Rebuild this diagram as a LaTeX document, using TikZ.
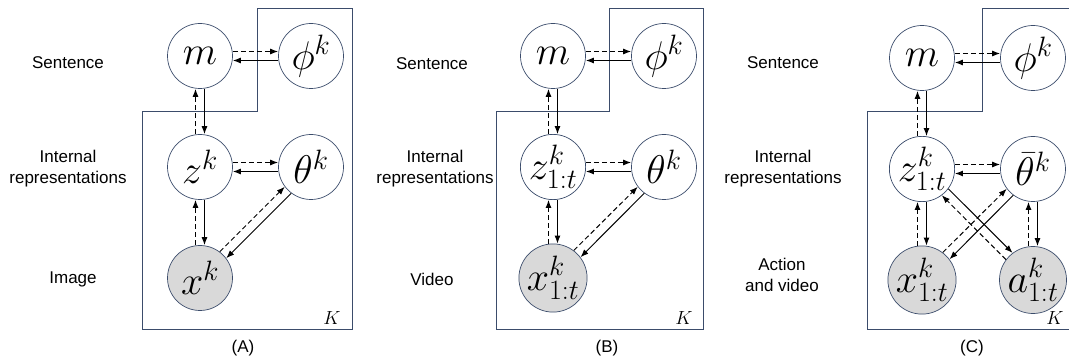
\RequirePackage{fix-cm}
\documentclass[tikz,border=0pt]{standalone}
\usepackage{fontspec}
\setsansfont{Liberation Sans}
\usetikzlibrary{arrows.meta,positioning}
\definecolor{platecol}{HTML}{3B4C6B}
\definecolor{obsgray}{HTML}{D9D9D9}
\newcommand{\bigmath}{\fontsize{40}{44}\selectfont}
\newcommand{\labfont}{\sffamily\fontsize{17}{21}\selectfont}
\newcommand{\platefont}{\fontsize{19}{21}\selectfont}

\begin{document}
\begin{tikzpicture}[x=1pt, y=-1pt, node distance={111pt},
  main/.style = {draw=platecol, line width=0.7pt, circle, minimum size=65pt, inner sep=0pt, font=\bigmath},
  obs/.style = {main, fill=obsgray},
  lab/.style = {align=center, font=\labfont},
  plate/.style = {draw=platecol, line width=0.9pt},
  fwd/.style = {-{Latex[length=8pt,width=6pt]}, line width=1pt},
  bwd/.style = {fwd, dash pattern=on 5pt off 3pt}]
\useasboundingbox (0,0) rectangle (1069,358);

% (A) image
\draw[plate] (142,111) -- (257,111) -- (257,8) -- (352,8) -- (352,329) -- (142,329) -- cycle;
\node[main] (m1) at (200,56) {$m$};
\node[main] (phi1) [right of=m1] {$\phi^k$};
\node[main] (z1) [below of=m1] {$z^k$};
\node[main] (th1) [right of=z1] {$\theta^k$};
\node[obs] (x1) [below of=z1] {$x^k$};
\node[lab] (sen1) at (68,63) {Sentence};
\node[lab] (int1) at (68,169) {Internal\\representations};
\node[lab] (obs1) at (73,279) {Image};
\node[lab] (cap1) at (243,348) {(A)};
\node (K1) at (332,318) {\platefont$K$};

\draw[bwd] ([yshift=4.5pt]m1.east) -- ([yshift=4.5pt]phi1.west);
\draw[fwd] ([yshift=-4.5pt]phi1.west) -- ([yshift=-4.5pt]m1.east);
\draw[bwd] ([xshift=-4.5pt]z1.north) -- ([xshift=-4.5pt]m1.south);
\draw[fwd] ([xshift=4.5pt]m1.south) -- ([xshift=4.5pt]z1.north);
\draw[bwd] ([yshift=4.5pt]z1.east) -- ([yshift=4.5pt]th1.west);
\draw[fwd] ([yshift=-4.5pt]th1.west) -- ([yshift=-4.5pt]z1.east);
\draw[bwd] ([xshift=-4.5pt]x1.north) -- ([xshift=-4.5pt]z1.south);
\draw[fwd] ([xshift=4.5pt]z1.south) -- ([xshift=4.5pt]x1.north);
\draw[bwd] (x1.53) -- (th1.217);
\draw[fwd] (th1.233) -- (x1.37);

% (B) video
\draw[plate] (496,111) -- (609,111) -- (609,8) -- (703,8) -- (703,329) -- (496,329) -- cycle;
\node[main] (m2) at (553,56) {$m$};
\node[main] (phi2) [right of=m2] {$\phi^k$};
\node[main] (z2) [below of=m2] {$z^k_{1:t}$};
\node[main] (th2) [right of=z2] {$\theta^k$};
\node[obs] (x2) [below of=z2] {$x^k_{1:t}$};
\node[lab] (sen2) at (432,64) {Sentence};
\node[lab] (int2) at (435,169) {Internal\\representations};
\node[lab] (obs2) at (432,279) {Video};
\node[lab] (cap2) at (607,348) {(B)};
\node (K2) at (684,318) {\platefont$K$};

\draw[bwd] ([yshift=4.5pt]m2.east) -- ([yshift=4.5pt]phi2.west);
\draw[fwd] ([yshift=-4.5pt]phi2.west) -- ([yshift=-4.5pt]m2.east);
\draw[bwd] ([xshift=-4.5pt]z2.north) -- ([xshift=-4.5pt]m2.south);
\draw[fwd] ([xshift=4.5pt]m2.south) -- ([xshift=4.5pt]z2.north);
\draw[bwd] ([yshift=4.5pt]z2.east) -- ([yshift=4.5pt]th2.west);
\draw[fwd] ([yshift=-4.5pt]th2.west) -- ([yshift=-4.5pt]z2.east);
\draw[bwd] ([xshift=-4.5pt]x2.north) -- ([xshift=-4.5pt]z2.south);
\draw[fwd] ([xshift=4.5pt]z2.south) -- ([xshift=4.5pt]x2.north);
\draw[bwd] (x2.53) -- (th2.217);
\draw[fwd] (th2.233) -- (x2.37);

% (C) action and video
\draw[plate] (867,111) -- (982,111) -- (982,8) -- (1080,8) -- (1080,329) -- (867,329) -- cycle;
\node[main] (m3) at (922,58) {$m$};
\node[main] (phi3) [right of=m3] {$\phi^k$};
\node[main] (z3) [below of=m3] {$z^k_{1:t}$};
\node[main] (th3) [right of=z3] {$\bar{\theta}^k$};
\node[obs] (x3) [below of=z3] {$x^k_{1:t}$};
\node[obs] (a3) [right of=x3] {$a^k_{1:t}$};
\node[lab] (sen3) at (783,63) {Sentence};
\node[lab] (int3) at (783,169) {Internal\\representations};
\node[lab] (obs3) at (782,275) {Action\\and video};
\node[lab] (cap3) at (972,348) {(C)};
\node (K3) at (1055,318) {\platefont$K$};

\draw[bwd] ([yshift=4.5pt]m3.east) -- ([yshift=4.5pt]phi3.west);
\draw[fwd] ([yshift=-4.5pt]phi3.west) -- ([yshift=-4.5pt]m3.east);
\draw[bwd] ([xshift=-4.5pt]z3.north) -- ([xshift=-4.5pt]m3.south);
\draw[fwd] ([xshift=4.5pt]m3.south) -- ([xshift=4.5pt]z3.north);
\draw[bwd] ([yshift=4.5pt]z3.east) -- ([yshift=4.5pt]th3.west);
\draw[fwd] ([yshift=-4.5pt]th3.west) -- ([yshift=-4.5pt]z3.east);
\draw[bwd] ([xshift=-4.5pt]x3.north) -- ([xshift=-4.5pt]z3.south);
\draw[fwd] ([xshift=4.5pt]z3.south) -- ([xshift=4.5pt]x3.north);
\draw[bwd] ([xshift=-4.5pt]a3.north) -- ([xshift=-4.5pt]th3.south);
\draw[fwd] ([xshift=4.5pt]th3.south) -- ([xshift=4.5pt]a3.north);
\draw[bwd] (x3.53) -- (th3.217);
\draw[fwd] (th3.233) -- (x3.37);
\draw[fwd] (z3.-37) -- (a3.127);
\draw[bwd] (a3.143) -- (z3.-53);
\end{tikzpicture}
\end{document}
